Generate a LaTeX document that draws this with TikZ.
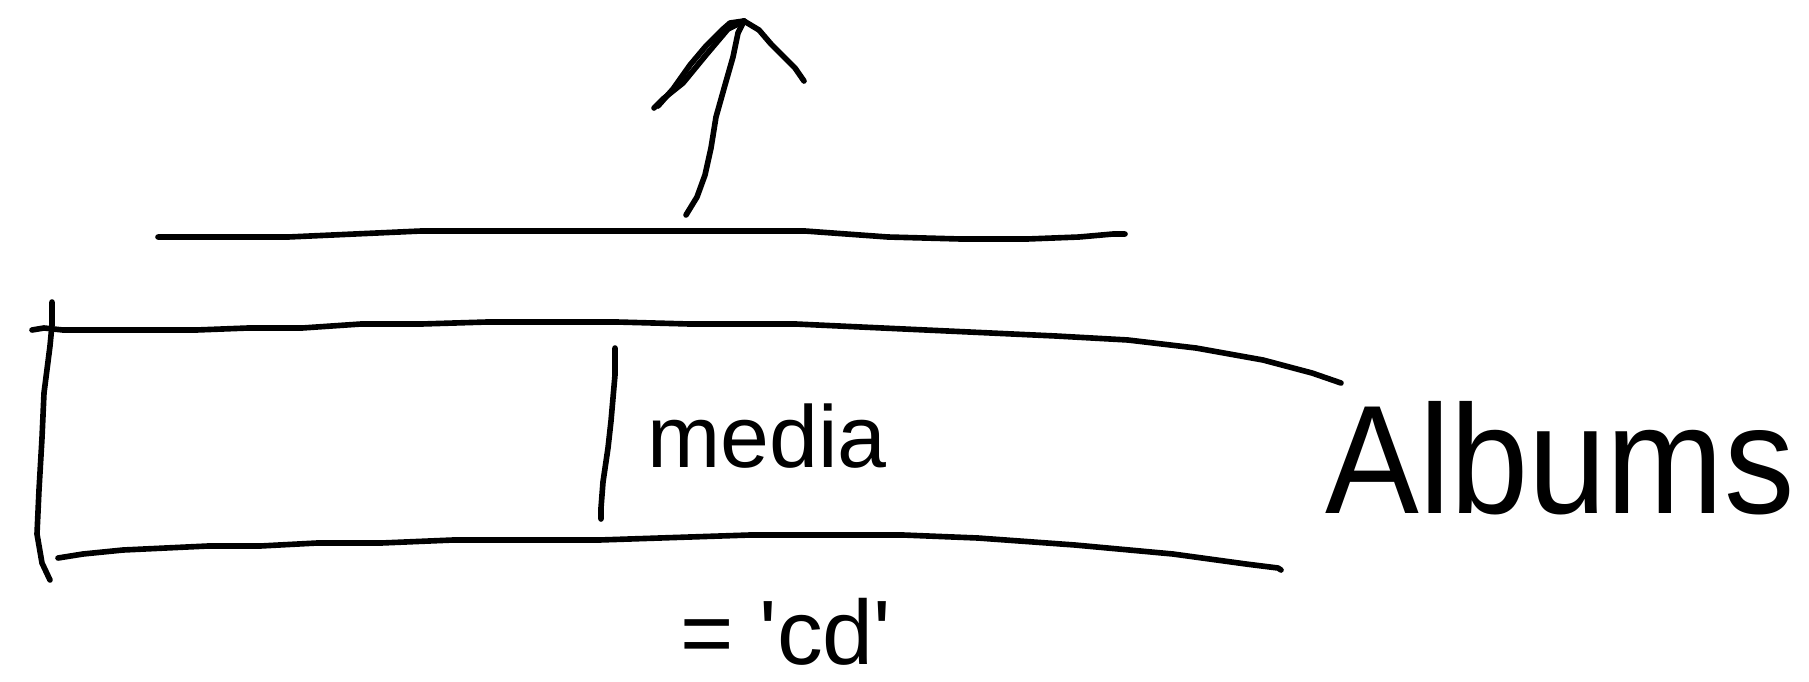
\documentclass[tikz,border=0pt]{standalone}
\usepackage{fontspec}
\setmainfont{Liberation Sans}
\begin{document}
\begin{tikzpicture}[x=0.01cm,y=-0.01cm,
  pen/.style={line width=1.6pt,line cap=round,line join=round,black},
  label/.style={inner sep=0pt,anchor=base}]
\useasboundingbox (0,0) rectangle (1809,681);
% arrow
\draw[pen] (686,215) -- (697,197) -- (705,175) -- (711,148) -- (716,117) -- (725,85) -- (733,57) -- (738,33) -- (744,21);
\draw[pen] (654,108) -- (663,99) -- (683,83) -- (706,55) -- (728,29) -- (744,21);
\draw[pen] (658,106) -- (673,89) -- (690,65) -- (706,46) -- (722,30) -- (730,23) -- (744,21);
\draw[pen] (744,21) -- (759,30) -- (771,44) -- (795,68) -- (804,81);
% top line
\draw[pen] (158,237) -- (288,237) -- (421,231) -- (805,231) -- (888,237) -- (961,239) -- (1027,239) -- (1079,237) -- (1113,234) -- (1125,234);
% box top
\draw[pen] (32,330) -- (44,328) -- (63,330) -- (196,330) -- (248,328) -- (302,328) -- (361,324) -- (421,324) -- (487,322) -- (617,322) -- (690,324) -- (796,324) -- (1056,336) -- (1128,340) -- (1196,348) -- (1263,360) -- (1312,373) -- (1341,383);
% left side
\draw[pen] (52,302) -- (52,325) -- (50,346) -- (44,393) -- (42,438) -- (39,490) -- (37,534) -- (42,563) -- (50,580);
% bottom line
\draw[pen] (58,558) -- (83,554) -- (123,550) -- (208,546) -- (260,546) -- (317,543) -- (381,543) -- (453,540) -- (599,540) -- (750,535) -- (903,535) -- (978,538) -- (1075,545) -- (1173,554) -- (1246,564) -- (1278,568) -- (1281,570);
% vertical stroke before media
\draw[pen] (615,348) -- (615,375) -- (611,421) -- (608,448) -- (603,482) -- (601,508) -- (601,519);
% texts
\node[label,font=\fontsize{25}{29}\selectfont] (media) at (767,467) {media};
\node[label,font=\fontsize{40}{46}\selectfont,yscale=1.1] (albums) at (1560,513) {Albums};
\node[label,font=\fontsize{26}{30}\selectfont] (cd) at (786,664) {= \textquotesingle cd\textquotesingle};
\end{tikzpicture}
\end{document}
